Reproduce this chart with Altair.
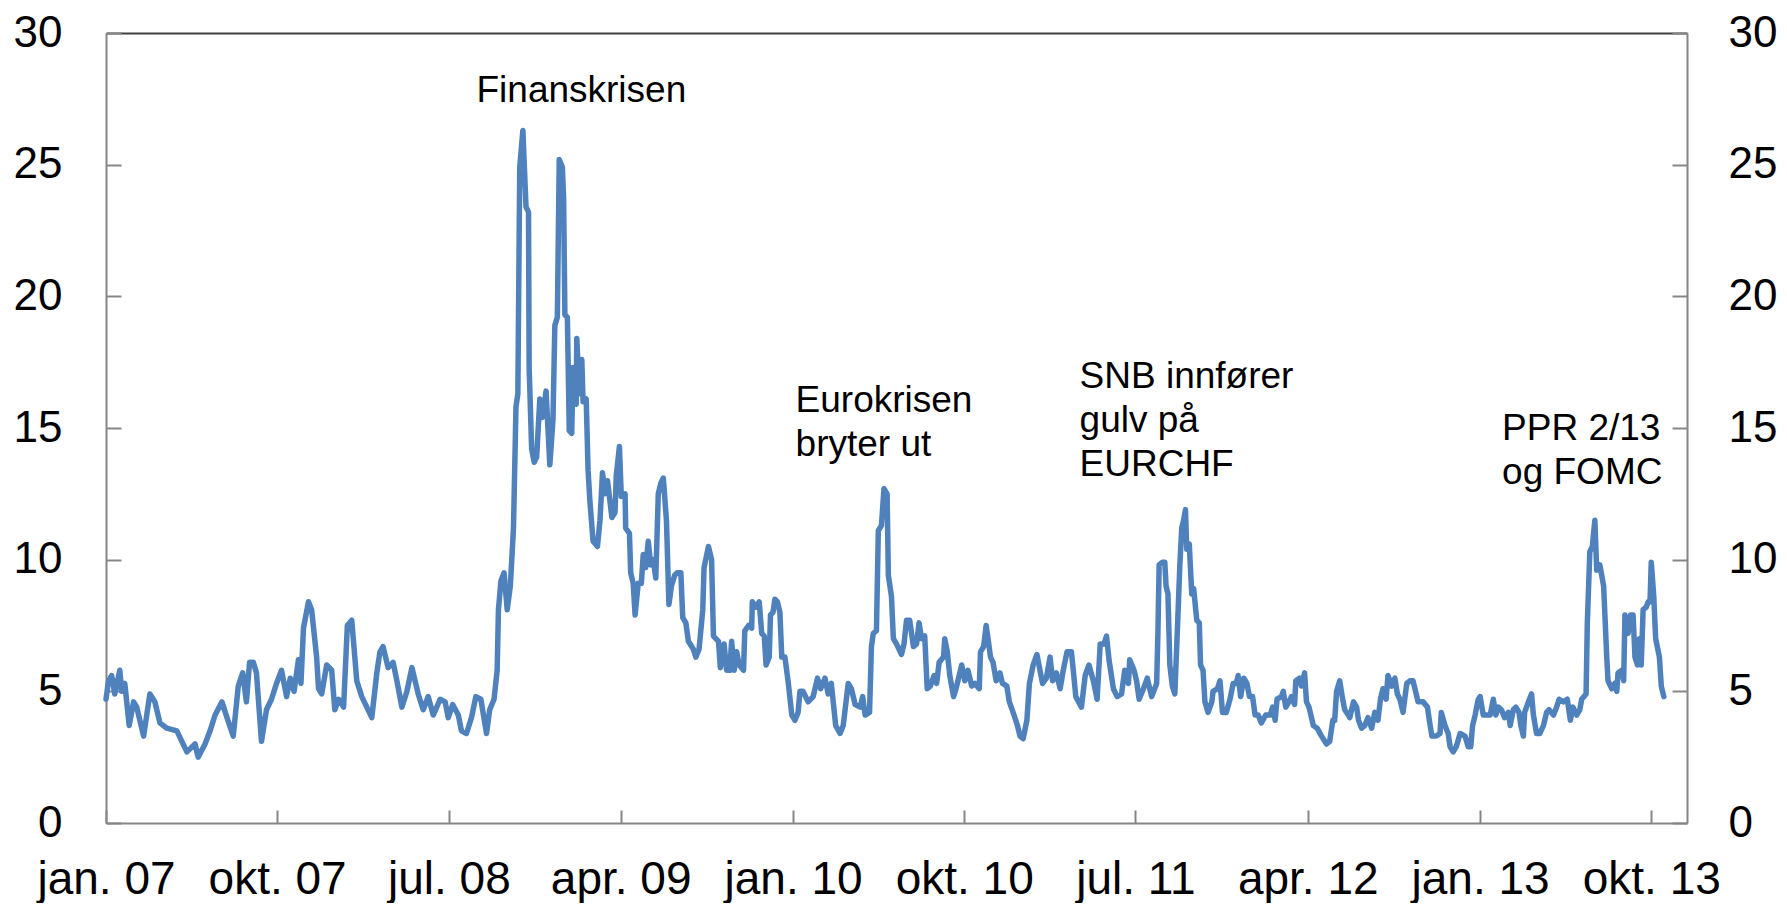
import json
import altair as alt
import pandas as pd

# Series: days since 1 Jan 2007 and the value
DAYS = [
    0, 4, 9, 14, 22, 25, 30, 37, 44, 49, 60, 70, 78, 86, 97, 113, 129, 142, 147, 158,
    166, 174, 185, 193, 203, 211, 218, 224, 229, 235, 240, 248, 256, 264, 272, 280, 288, 294, 300, 307,
    311, 315, 323, 328, 336, 339, 344, 352, 360, 365, 371, 379, 385, 392, 400, 408, 424, 432, 437, 442,
    450, 458, 464, 472, 480, 488, 498, 506, 514, 522,
    533, 541, 546, 553, 562, 567, 575, 583, 590, 598, 607, 612, 619, 624, 626, 630, 635, 640, 645, 650,
    654, 657, 660, 665, 670, 674, 675, 679, 683, 687, 692, 696, 702, 708, 713, 716, 720, 723, 728, 730,
    732, 736, 739, 743, 745, 750, 751, 755, 759, 761, 766, 769, 772, 777, 784, 788, 792, 796, 800, 807,
    812, 814, 819, 822, 828, 829, 835, 837, 841, 844, 849, 854, 857, 861, 865, 869, 873, 877, 881, 885,
    889, 894, 898, 902, 907, 911, 917, 920, 925, 929, 937, 941, 946, 952, 954, 961, 966, 969, 977, 980,
    986, 990,
    995, 998, 1002, 1006, 1010, 1017, 1019, 1025, 1030, 1031, 1037, 1042, 1046, 1050, 1053, 1058, 1060, 1064, 1067, 1071,
    1075, 1078, 1083, 1088, 1094, 1099, 1104, 1107, 1112, 1120, 1128, 1135, 1140, 1147, 1152, 1157, 1164, 1171, 1176, 1184,
    1189, 1195, 1203, 1207, 1211, 1218, 1221, 1224, 1229, 1232, 1237, 1241, 1246, 1248, 1253, 1256, 1261, 1269, 1273, 1277,
    1282, 1288, 1293, 1297, 1301, 1306, 1310, 1315, 1321, 1325, 1329, 1336, 1338, 1342, 1346, 1352, 1356, 1365, 1370, 1375,
    1381, 1386, 1393, 1395, 1400, 1404, 1407, 1411, 1415, 1420, 1426, 1430, 1437, 1441, 1447, 1454, 1458, 1463, 1469, 1473,
    1479, 1485,
    1494, 1500, 1506, 1510, 1516, 1522, 1527, 1533, 1540, 1543, 1547, 1556, 1562, 1568, 1575, 1581, 1586, 1592, 1596, 1600,
    1607, 1613, 1620, 1625, 1631, 1633, 1640, 1644, 1648, 1655, 1661, 1668, 1676, 1678, 1680, 1685, 1689, 1691, 1694, 1697,
    1701, 1705, 1709, 1713, 1716, 1719, 1722, 1724, 1728, 1732, 1735, 1740, 1744, 1746, 1750, 1753, 1758, 1764, 1766, 1773,
    1777, 1781, 1787, 1793, 1798, 1803, 1806, 1810, 1815, 1820, 1824, 1829, 1833, 1838, 1843, 1850, 1857, 1861, 1865, 1868,
    1875, 1878, 1882, 1887, 1891, 1896, 1898, 1904, 1907, 1912, 1915, 1919, 1926, 1932, 1939, 1947, 1952, 1957, 1960, 1963,
    1968, 1972, 1976, 1982,
    1984, 1990, 1995, 1998, 2003, 2008, 2013, 2019, 2024, 2029, 2033, 2037, 2042, 2045, 2051, 2056, 2060, 2064, 2069, 2075,
    2080, 2085, 2090, 2093, 2101, 2108, 2111, 2115, 2122, 2128, 2130, 2136, 2141, 2144, 2149, 2154, 2160, 2168, 2173, 2177,
    2180, 2184, 2189, 2192, 2197, 2202, 2208, 2213, 2217, 2221, 2226, 2231, 2237, 2240, 2245, 2249, 2254, 2257, 2261, 2263,
    2269, 2274, 2277, 2282, 2287, 2293, 2298, 2302, 2309, 2314, 2318, 2325, 2331, 2336, 2340, 2346, 2351, 2354, 2361, 2363,
    2367, 2371, 2375, 2378, 2383, 2389, 2394, 2396, 2402, 2407, 2410, 2412, 2418, 2421, 2423, 2428, 2432, 2436, 2439, 2443,
    2446, 2449, 2452, 2457, 2460, 2463, 2465, 2469, 2472, 2478, 2481, 2485,
]
VALUES = [
    4.7, 5.4, 5.6, 4.9, 5.8, 5.0, 5.3, 3.7, 4.6, 4.4, 3.3, 4.9, 4.6, 3.8, 3.6, 3.5, 2.7, 3.0, 2.5, 3.0,
    3.5, 4.1, 4.6, 4.0, 3.3, 5.2, 5.7, 4.6, 6.1, 6.1, 5.7, 3.1, 4.3, 4.7, 5.3, 5.8, 4.8, 5.5, 5.0, 6.2,
    5.3, 7.4, 8.4, 8.1, 6.3, 5.1, 4.9, 6.0, 5.8, 4.3, 4.7, 4.4, 7.5, 7.7, 5.4, 4.8, 4.0, 5.7, 6.5, 6.7,
    5.9, 6.1, 5.4, 4.4, 5.0, 5.9, 4.9, 4.3, 4.8, 4.1,
    4.7, 4.6, 4.0, 4.5, 4.1, 3.5, 3.4, 4.0, 4.8, 4.7, 3.4, 4.3, 4.7, 5.8, 8.1, 9.2, 9.5, 8.1, 9.0, 11.2,
    15.8, 16.3, 24.9, 26.3, 23.4, 23.2, 17.3, 14.2, 13.7, 13.9, 16.1, 15.4, 16.4, 13.6, 15.3, 18.9, 19.2, 25.2, 24.9, 23.7,
    19.3, 19.2, 14.9, 14.8, 17.3, 15.9, 18.4, 16.3, 17.6, 16.0, 16.1, 13.4, 12.2, 10.7, 10.5, 11.5, 13.3, 12.5, 13.0, 11.6,
    11.8, 13.2, 14.3, 12.4, 12.5, 11.2, 11.0, 9.5, 9.1, 7.9, 9.1, 9.1, 10.2, 9.7, 10.7, 9.8, 10.0, 9.3, 12.5, 12.9,
    13.1, 11.5, 8.3, 9.0, 9.4, 9.5, 9.5, 7.8, 7.6, 6.9, 6.6, 6.3, 6.6, 8.1, 9.7, 10.5, 10.0, 7.1, 6.9, 5.9,
    6.8, 5.8,
    5.8, 6.9, 5.8, 6.5, 6.0, 5.8, 7.3, 7.5, 7.4, 8.4, 8.2, 8.4, 7.2, 7.1, 6.0, 6.3, 7.9, 8.0, 8.5, 8.4,
    8.0, 6.3, 6.3, 5.4, 4.1, 3.9, 4.2, 5.0, 5.0, 4.6, 4.8, 5.5, 5.1, 5.5, 4.9, 5.3, 3.7, 3.4, 3.7, 5.3,
    5.1, 4.5, 4.4, 4.8, 4.1, 4.2, 6.7, 7.2, 7.3, 11.1, 11.3, 12.7, 12.5, 9.4, 8.6, 7.0, 6.8, 6.4, 6.8, 7.7,
    7.7, 6.7, 6.8, 7.6, 7.0, 7.1, 5.1, 5.2, 5.6, 5.3, 6.1, 6.3, 7.0, 6.5, 5.6, 4.8, 5.1, 6.0, 5.4, 5.8,
    5.2, 5.3, 5.1, 6.5, 6.7, 7.5, 7.0, 6.3, 6.1, 5.4, 5.7, 5.3, 5.2, 4.6, 4.2, 3.7, 3.3, 3.2, 3.9, 5.3,
    6.0, 6.4,
    5.3, 5.5, 6.3, 5.4, 5.7, 5.1, 5.8, 6.5, 6.5, 5.8, 4.8, 4.4, 5.6, 6.0, 5.4, 4.7, 6.8, 6.8, 7.1, 6.2,
    5.1, 4.8, 4.9, 5.8, 5.3, 6.2, 5.8, 5.4, 4.7, 5.1, 5.5, 4.8, 5.3, 7.2, 9.8, 9.9, 9.9, 9.0, 8.7, 6.0,
    5.2, 4.9, 7.3, 9.8, 11.2, 11.5, 11.9, 10.4, 10.6, 8.7, 8.9, 7.7, 7.6, 6.0, 5.8, 4.6, 4.2, 4.6, 5.0, 5.1,
    5.4, 4.2, 4.2, 4.7, 5.3, 5.3, 5.6, 4.8, 5.5, 5.3, 4.8, 4.8, 4.1, 4.1, 3.8, 4.1, 4.1, 4.4, 3.9, 4.7,
    4.8, 5.0, 4.4, 4.6, 4.8, 4.5, 5.4, 5.5, 5.2, 5.7, 4.6, 4.4, 3.7, 3.6, 3.3, 3.0, 3.1, 3.9, 3.9, 5.0,
    5.4, 4.8, 4.3, 4.1,
    4.0, 4.6, 4.4, 3.9, 3.6, 3.7, 4.0, 3.6, 4.2, 3.9, 4.7, 5.1, 4.7, 5.6, 5.2, 5.5, 4.9, 4.7, 4.2, 5.3,
    5.4, 5.4, 4.9, 4.6, 4.6, 4.4, 3.9, 3.3, 3.3, 3.4, 4.2, 3.7, 3.4, 2.9, 2.7, 2.9, 3.4, 3.3, 2.9, 2.9,
    3.7, 4.1, 4.7, 4.8, 4.1, 4.1, 4.1, 4.7, 4.1, 4.4, 4.3, 4.0, 4.2, 3.7, 4.3, 4.4, 4.2, 3.7, 3.3, 4.2,
    4.6, 4.9, 4.1, 3.4, 3.4, 3.7, 4.2, 4.3, 4.1, 4.4, 4.7, 4.6, 4.7, 3.9, 4.4, 4.1, 4.3, 4.7, 4.9, 7.6,
    10.3, 10.5, 11.5, 9.6, 9.8, 9.0, 6.3, 5.4, 5.1, 5.3, 5.0, 5.7, 5.8, 5.4, 7.9, 7.2, 7.9, 7.9, 6.3, 6.0,
    7.0, 6.0, 8.1, 8.2, 8.4, 8.4, 9.9, 8.6, 7.0, 6.3, 5.2, 4.8,
]

# Axis ticks (x in days since 1 Jan 2007)
TICK_DAYS = [0, 273, 547, 821, 1096, 1369, 1642, 1917, 2192, 2465]
TICK_LABELS = ["jan. 07", "okt. 07", "jul. 08", "apr. 09", "jan. 10",
               "okt. 10", "jul. 11", "apr. 12", "jan. 13", "okt. 13"]
X_END = 2522
Y_TICKS = [0, 5, 10, 15, 20, 25, 30]

# Annotations
ANN_TEXT = ["Finanskrisen", "Eurokrisen\nbryter ut", "SNB innfører\ngulv på\nEURCHF", "PPR 2/13\nog FOMC"]
ANN_DAY = [591, 1100, 1553, 2227]
ANN_VALUE = [27.37, 15.62, 16.53, 14.56]

df = pd.DataFrame({"day": DAYS, "value": VALUES})
ann = pd.DataFrame({"day": ANN_DAY, "value": ANN_VALUE, "label": ANN_TEXT})

FONT = "Liberation Sans"
GREY = "#868686"
LINE = "#4F81BD"

xs = alt.Scale(domain=[0, X_END], nice=False, zero=False)
ys = alt.Scale(domain=[0, 30], nice=False)

label_expr = f"{json.dumps(TICK_LABELS)}[indexof({json.dumps(TICK_DAYS)}, datum.value)]"

xa_main = alt.Axis(orient="bottom", values=TICK_DAYS, labelExpr=label_expr, ticks=False, tickSize=0,
                   domain=True, domainColor=GREY, domainWidth=2, labelFont=FONT, labelFontSize=46,
                   labelColor="black", labelPadding=34, grid=False, title=None,
                   labelFlush=False, labelOverlap=False)
xa_ticks = alt.Axis(orient="bottom", values=TICK_DAYS, labels=False, domain=False, ticks=True,
                    tickSize=13, tickColor=GREY, tickWidth=2, offset=-13, grid=False, title=None)
xa_top = alt.Axis(orient="top", labels=False, ticks=False, domain=True, domainColor="#404040",
                  domainWidth=2, grid=False, title=None)

ya_main = alt.Axis(orient="left", values=Y_TICKS, ticks=False, tickSize=0, domain=True,
                   domainColor=GREY, domainWidth=2, labelFont=FONT, labelFontSize=44,
                   labelColor="black", labelPadding=44, grid=False, title=None, labelFlush=False)
ya_ticks = alt.Axis(orient="left", values=Y_TICKS, labels=False, domain=False, ticks=True,
                    tickSize=15, tickColor=GREY, tickWidth=2, offset=-15, grid=False, title=None)
ya_right = alt.Axis(orient="right", values=Y_TICKS, ticks=False, tickSize=0, domain=True,
                    domainColor=GREY, domainWidth=2, labelFont=FONT, labelFontSize=44,
                    labelColor="black", labelPadding=41, grid=False, title=None, labelFlush=False)
ya_right_ticks = alt.Axis(orient="right", values=Y_TICKS, labels=False, domain=False, ticks=True,
                          tickSize=15, tickColor=GREY, tickWidth=2, offset=-15, grid=False, title=None)

base = alt.Chart(df)

l_ticks = base.mark_line(opacity=0).encode(
    x=alt.X("day:Q", scale=xs, axis=xa_ticks),
    y=alt.Y("value:Q", scale=ys, axis=ya_ticks),
)
l_right = base.mark_line(opacity=0).encode(
    x=alt.X("day:Q", scale=xs, axis=xa_top),
    y=alt.Y("value:Q", scale=ys, axis=ya_right),
)
l_right_ticks = base.mark_line(opacity=0).encode(
    x=alt.X("day:Q", scale=xs, axis=None),
    y=alt.Y("value:Q", scale=ys, axis=ya_right_ticks),
)
line = base.mark_line(color=LINE, strokeWidth=5.5, strokeJoin="round", strokeCap="round").encode(
    x=alt.X("day:Q", scale=xs, axis=xa_main),
    y=alt.Y("value:Q", scale=ys, axis=ya_main),
)
text = alt.Chart(ann).mark_text(
    align="left", baseline="alphabetic", font=FONT, fontSize=37, lineBreak="\n",
    lineHeight=44, color="black",
).encode(
    x=alt.X("day:Q", scale=xs, axis=None),
    y=alt.Y("value:Q", scale=ys, axis=None),
    text="label:N",
)

chart = (
    alt.layer(line, l_ticks, l_right, l_right_ticks, text)
    .resolve_axis(x="independent", y="independent")
    .properties(
        width=1581,
        height=790,
        padding={"left": 98, "top": 25, "right": 90, "bottom": 80},
        autosize=alt.AutoSizeParams(type="none"),
        background="white",
    )
    .configure_view(stroke=None)
)

chart.save("out.html", embed_options={"renderer": "svg", "actions": False})
